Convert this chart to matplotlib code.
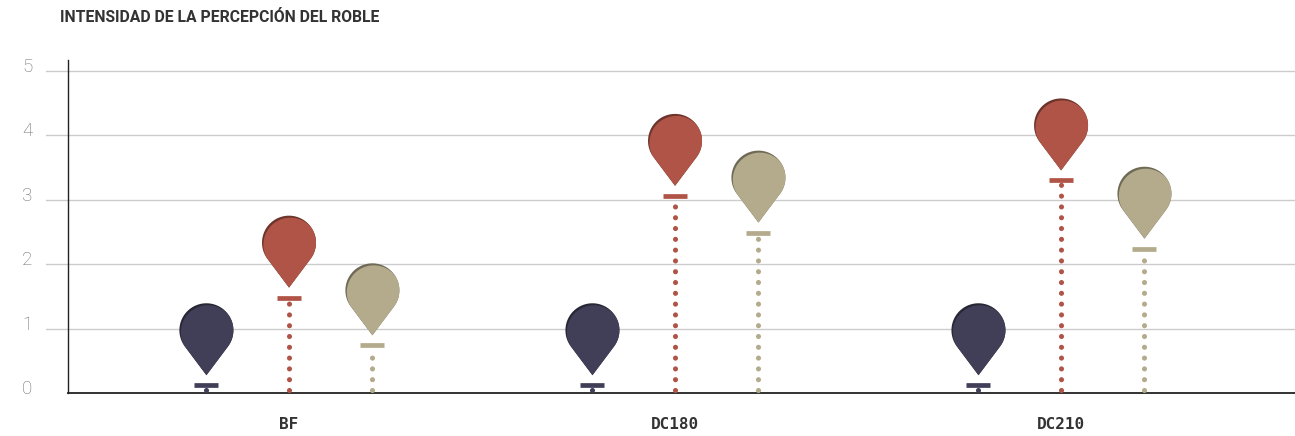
import numpy as np
import matplotlib
matplotlib.use("Agg")
import matplotlib.pyplot as plt
import matplotlib.transforms as mtransforms
from matplotlib.path import Path
from matplotlib.patches import PathPatch
from matplotlib.colors import to_rgb

# ---- data ----
categories = ["BF", "DC180", "DC210"]
serie_a = [0.12, 0.12, 0.12]      # navy
serie_b = [1.48, 3.06, 3.30]      # red
serie_c = [0.74, 2.49, 2.24]      # tan
y_ticks = [0, 1, 2, 3, 4, 5]
title = "INTENSIDAD DE LA PERCEPCIÓN DEL ROBLE"

colors = ["#413f57", "#b05447", "#b3ab8b"]
offsets = [-0.214, 0.0, 0.216]

W, H = 1295, 436
fig = plt.figure(figsize=(W / 100, H / 100), dpi=100)
ax = fig.add_axes([46 / W, 43 / H, (W - 46) / W, (393 - 60) / H])
ax.set_xlim(-0.6295, 2.606)
ax.set_ylim(0, 5.17)

for s in ["top", "right"]:
    ax.spines[s].set_visible(False)
ax.spines["left"].set_position(("data", -0.5725))
ax.spines["left"].set_color("#222222")
ax.spines["left"].set_linewidth(1.0)
ax.spines["bottom"].set_bounds(-0.5725, 2.606)
ax.spines["bottom"].set_color("#222222")
ax.spines["bottom"].set_linewidth(1.3)

ax.set_yticks(y_ticks[1:])
ax.set_yticklabels([])
ax.yaxis.grid(True, color="#cccccc", linewidth=1.0)
ax.set_axisbelow(True)
ax.tick_params(axis="y", length=0)
for t in y_ticks:
    ax.text(-0.665, t + 0.06, str(t), transform=ax.transData, ha="right", va="center",
            fontsize=13.5, color="#707070", family="Roboto", fontweight="light",
            clip_on=False)

x = np.arange(len(categories))
ax.set_xticks(x)
ax.set_xticklabels(categories, family="DejaVu Sans Mono", fontweight="bold",
                   fontsize=11.5, color="#333333")
ax.tick_params(axis="x", length=0, pad=17)

fig.text(60 / W, 1 - 18 / H, title, ha="left", va="center", fontsize=11.3,
         fontweight="bold", family="Roboto", color="#333333")

# pin shape in pixels (relative to dash centre), converted to inches
r, cy, tip = 27.0, 55.0, 10.0
d = cy - tip
beta = np.degrees(np.arccos(r / d))
th = np.radians(np.linspace(-90 + beta, 270 - beta, 120))
verts = [(0, tip)] + [(r * np.cos(a), cy + r * np.sin(a)) for a in th] + [(0, tip)]
verts = np.array(verts) / 100.0
codes = [Path.MOVETO] + [Path.LINETO] * (len(verts) - 2) + [Path.CLOSEPOLY]
pin_path = Path(verts, codes)

def darker(c, f):
    return tuple(np.array(to_rgb(c)) * f)

series = [serie_a, serie_b, serie_c]
for si, (vals, col, off) in enumerate(zip(series, colors, offsets)):
    xs = x + off
    for xi, v in zip(xs, vals):
        # dotted stem
        ax.plot([xi, xi], [0.05, v - 0.06], color=col, lw=3.7,
                linestyle=(0, (0.001, 2.1)), dash_capstyle="round",
                clip_on=False, zorder=3)
        # dash
        ax.plot([xi - 0.031, xi + 0.031], [v, v], color=col, lw=3.4,
                solid_capstyle="butt", clip_on=False, zorder=4)
        # pin
        base = fig.dpi_scale_trans + mtransforms.ScaledTranslation(xi, v, ax.transData)
        shadow = PathPatch(pin_path, transform=base, facecolor=darker(col, 0.62),
                           edgecolor="none", zorder=5, clip_on=False)
        ax.add_patch(shadow)
        main_tr = (fig.dpi_scale_trans + mtransforms.ScaledTranslation(1.4 / 100, -2.0 / 100, fig.dpi_scale_trans)
                   + mtransforms.ScaledTranslation(xi, v, ax.transData))
        main = PathPatch(pin_path, transform=main_tr, facecolor=col,
                         edgecolor="none", zorder=6)
        ax.add_patch(main)
        main.set_clip_path(shadow)

fig.savefig("out.png", dpi=100)
